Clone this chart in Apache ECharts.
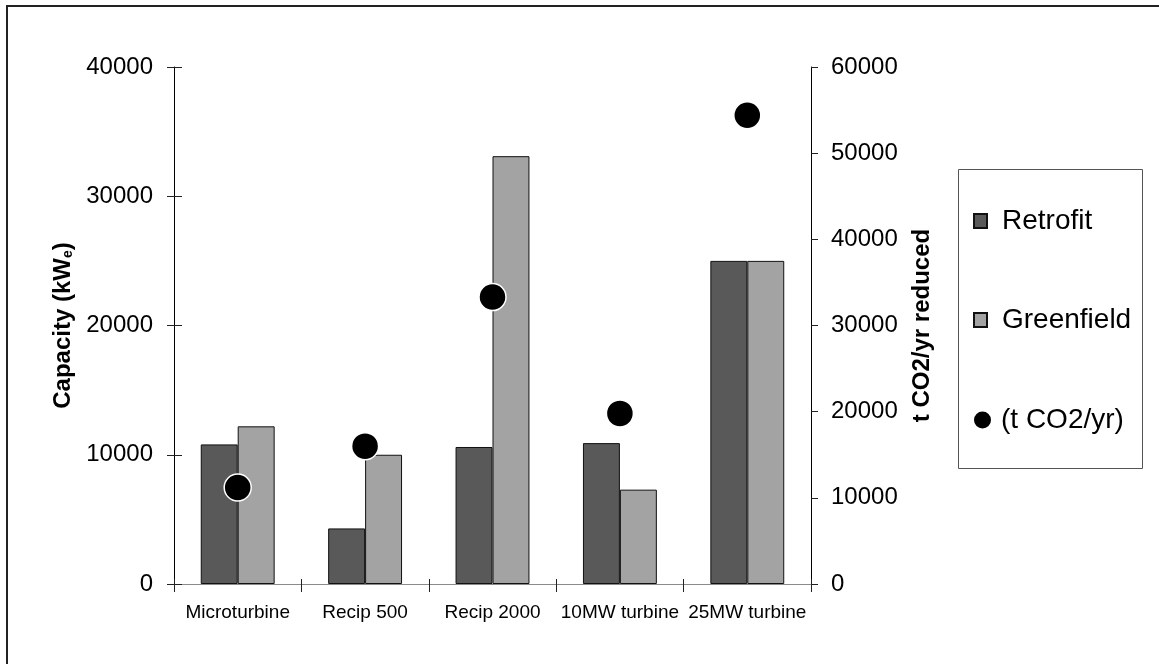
<!DOCTYPE html>
<html>
<head>
<meta charset="utf-8">
<script src="https://cdn.jsdelivr.net/npm/echarts@6/dist/echarts.min.js"></script>
<style>
html,body{margin:0;padding:0;background:#fff;}
#chart{width:1159px;height:664px;}
</style>
</head>
<body>
<div id="chart"></div>
<script>
const categories = ['Microturbine', 'Recip 500', 'Recip 2000', '10MW turbine', '25MW turbine'];
const retrofit = [10800, 4300, 10600, 10900, 25000];
const greenfield = [12200, 10000, 33100, 7300, 25000];
const co2Reduced = [11200, 16000, 33300, 19800, 54400];
const leftTicks = [0, 10000, 20000, 30000, 40000];
const rightTicks = [0, 10000, 20000, 30000, 40000, 50000, 60000];

const FONT = '"Liberation Sans", Arial, sans-serif';
const chart = echarts.init(document.getElementById('chart'));

const gridRect = { left: 174, top: 67, right: 348, bottom: 80 };
const plainNum = v => String(v);

chart.setOption({
  backgroundColor: '#fff',
  animation: false,
  textStyle: { fontFamily: FONT, color: '#000' },
  grid: [
    Object.assign({ containLabel: false }, gridRect),
    Object.assign({ containLabel: false }, gridRect)
  ],
  legend: [
    {
      data: ['Retrofit', 'Greenfield'],
      orient: 'vertical',
      left: 973,
      top: 207,
      padding: 0,
      itemGap: 71,
      itemWidth: 13,
      itemHeight: 14,
      icon: 'rect',
      selectedMode: false,
      textStyle: { fontFamily: FONT, fontSize: 28, color: '#000', padding: [0, 0, 0, 10] }
    },
    {
      data: ['(t CO2/yr)'],
      orient: 'vertical',
      left: 974,
      top: 406,
      padding: 0,
      itemWidth: 17,
      itemHeight: 17,
      icon: 'circle',
      selectedMode: false,
      itemStyle: { borderWidth: 0 },
      textStyle: { fontFamily: FONT, fontSize: 28, color: '#000', padding: [0, 0, 0, 5] }
    }
  ],
  xAxis: [
    {
      type: 'category',
      gridIndex: 0,
      position: 'bottom',
      data: categories,
      boundaryGap: true,
      axisLine: { show: true, lineStyle: { color: '#000', width: 1 } },
      axisTick: { show: true, length: 8, lineStyle: { color: '#222' }, alignWithLabel: false },
      axisLabel: { fontFamily: FONT, fontSize: 19, color: '#000', margin: 19, interval: 0 }
    },
    {
      type: 'category',
      gridIndex: 0,
      position: 'top',
      data: categories,
      axisLine: { show: true, lineStyle: { color: '#8a8a8a', width: 1 } },
      axisTick: { show: false },
      axisLabel: { show: false }
    },
    {
      type: 'category',
      gridIndex: 1,
      position: 'bottom',
      data: categories,
      boundaryGap: true,
      axisLine: { show: false },
      axisTick: { show: true, inside: true, length: 5, lineStyle: { color: '#222' } },
      axisLabel: { show: false }
    }
  ],
  yAxis: [
    {
      type: 'value',
      gridIndex: 0,
      position: 'left',
      min: leftTicks[0],
      max: leftTicks[leftTicks.length - 1],
      interval: 10000,
      name: 'Capacity (kW{sub|e})',
      nameLocation: 'middle',
      nameGap: 98,
      nameTextStyle: {
        fontFamily: FONT, fontSize: 24, fontWeight: 'bold', color: '#000',
        rich: { sub: { fontFamily: FONT, fontSize: 14, fontWeight: 'bold', color: '#000', verticalAlign: 'bottom' } }
      },
      axisLine: { show: true, lineStyle: { color: '#000', width: 1 } },
      axisTick: { show: true, length: 7, lineStyle: { color: '#222' } },
      axisLabel: { fontFamily: FONT, fontSize: 24, color: '#000', margin: 21, formatter: plainNum },
      splitLine: { show: false }
    },
    {
      type: 'value',
      gridIndex: 0,
      position: 'right',
      min: rightTicks[0],
      max: rightTicks[rightTicks.length - 1],
      interval: 10000,
      name: 't CO2/yr reduced',
      nameLocation: 'middle',
      nameGap: 99,
      nameTextStyle: { fontFamily: FONT, fontSize: 24, fontWeight: 'bold', color: '#000' },
      axisLine: { show: true, lineStyle: { color: '#000', width: 1 } },
      axisTick: { show: true, length: 7, lineStyle: { color: '#222' } },
      axisLabel: { fontFamily: FONT, fontSize: 24, color: '#000', margin: 20, formatter: plainNum },
      splitLine: { show: false }
    },
    {
      type: 'value',
      gridIndex: 1,
      position: 'left',
      min: leftTicks[0],
      max: leftTicks[leftTicks.length - 1],
      interval: 10000,
      axisLine: { show: false },
      axisTick: { show: true, inside: true, length: 8, lineStyle: { color: '#222' } },
      axisLabel: { show: false },
      splitLine: { show: false }
    }
  ],
  series: [
    {
      name: 'Retrofit',
      type: 'bar',
      xAxisIndex: 0,
      yAxisIndex: 0,
      data: retrofit,
      barGap: '0%',
      barCategoryGap: '42%',
      itemStyle: { color: '#595959', borderColor: '#111', borderWidth: 1 }
    },
    {
      name: 'Greenfield',
      type: 'bar',
      xAxisIndex: 0,
      yAxisIndex: 0,
      data: greenfield,
      barGap: '0%',
      barCategoryGap: '42%',
      itemStyle: { color: '#a3a3a3', borderColor: '#111', borderWidth: 1 }
    },
    {
      name: '(t CO2/yr)',
      type: 'scatter',
      xAxisIndex: 0,
      yAxisIndex: 1,
      data: co2Reduced,
      symbol: 'circle',
      symbolSize: 27,
      z: 5,
      itemStyle: { color: '#000', borderColor: '#fff', borderWidth: 1.5, opacity: 1 }
    }
  ],
  graphic: [
    {
      type: 'rect',
      silent: true,
      shape: { x: 7, y: 6, width: 1200, height: 700 },
      style: { fill: 'none', stroke: '#222', lineWidth: 2 }
    },
    {
      type: 'rect',
      silent: true,
      shape: { x: 958.5, y: 169.5, width: 184, height: 299 },
      style: { fill: 'none', stroke: '#555', lineWidth: 1 }
    }
  ]
});
</script>
</body>
</html>
